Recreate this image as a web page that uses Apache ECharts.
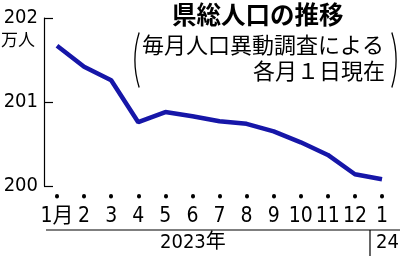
<!DOCTYPE html>
<html><head><meta charset="utf-8">
<script src="https://cdn.jsdelivr.net/npm/echarts@6/dist/echarts.min.js"></script>
<style>html,body{margin:0;padding:0;background:#fff}#c{width:400px;height:260px}</style>
</head><body><div id="c"></div>
<script>
var months = ['1月','2','3','4','5','6','7','8','9','10','11','12','1'];
var population = [201.67, 201.42, 201.26, 200.76, 200.88, 200.83, 200.77, 200.74, 200.65, 200.52, 200.37, 200.14, 200.08];
var yTicks = [200, 201, 202];
var F = '"Noto Sans CJK JP", sans-serif';
var N = '"Liberation Sans Narrow", "DejaVu Sans Condensed", "Noto Sans CJK JP", sans-serif';
var chart = echarts.init(document.getElementById('c'), null, {renderer:'canvas'});
chart.setOption({
  animation:false,
  grid:{left:57, right:18, top:18, bottom:74, containLabel:false},
  xAxis:{type:'category', data:months, boundaryGap:false, offset:10,
    axisLine:{show:false},
    axisTick:{show:true, alignWithLabel:true, length:0.5, inside:false, lineStyle:{color:'#000', width:4, cap:'round'}},
    axisLabel:{color:'#000', fontSize:21, fontFamily:N, margin:10, interval:0},
    splitLine:{show:false}},
  yAxis:{type:'value', min:yTicks[0], max:yTicks[yTicks.length-1], interval:1, offset:13,
    axisLine:{show:true, lineStyle:{color:'#000', width:1.2}},
    axisTick:{show:true, inside:true, length:9, lineStyle:{color:'#000', width:1.2}},
    axisLabel:{color:'#000', fontSize:20, fontFamily:N, margin:6},
    splitLine:{show:false}},
  series:[{type:'line', data:population, symbol:'none', lineStyle:{color:'#1616a8', width:4.5}}],
  graphic:[
    {type:'text', left:1, top:31, style:{text:'万人', fontSize:17, fontFamily:F, fill:'#000'}},
    {type:'text', left:172, top:2, style:{text:'県総人口の推移', fontSize:24.5, fontWeight:'bold', fontFamily:F, fill:'#000'}},
    {type:'text', left:142, top:34, style:{text:'毎月人口異動調査による', fontSize:22, fontFamily:F, fill:'#000'}},
    {type:'text', right:15, top:60, style:{text:'各月１日現在', fontSize:22, fontFamily:F, fill:'#000', textAlign:'right'}},
    {type:'arc', shape:{cx:228, cy:60, r:93, startAngle:Math.PI-0.3, endAngle:Math.PI+0.3}, style:{stroke:'#000', lineWidth:1.3, fill:null}},
    {type:'arc', shape:{cx:303, cy:60, r:93, startAngle:-0.3, endAngle:0.3}, style:{stroke:'#000', lineWidth:1.3, fill:null}},
    {type:'line', shape:{x1:46, y1:230, x2:400, y2:230}, style:{stroke:'#000', lineWidth:1.2}},
    {type:'line', shape:{x1:370, y1:230, x2:370, y2:256}, style:{stroke:'#000', lineWidth:1.2}},
    {type:'text', left:160, top:233, style:{text:'2023年', fontSize:20, fontFamily:N, fill:'#000'}},
    {type:'text', left:376, top:233, style:{text:'24', fontSize:20, fontFamily:N, fill:'#000'}}
  ]
});
</script></body></html>
